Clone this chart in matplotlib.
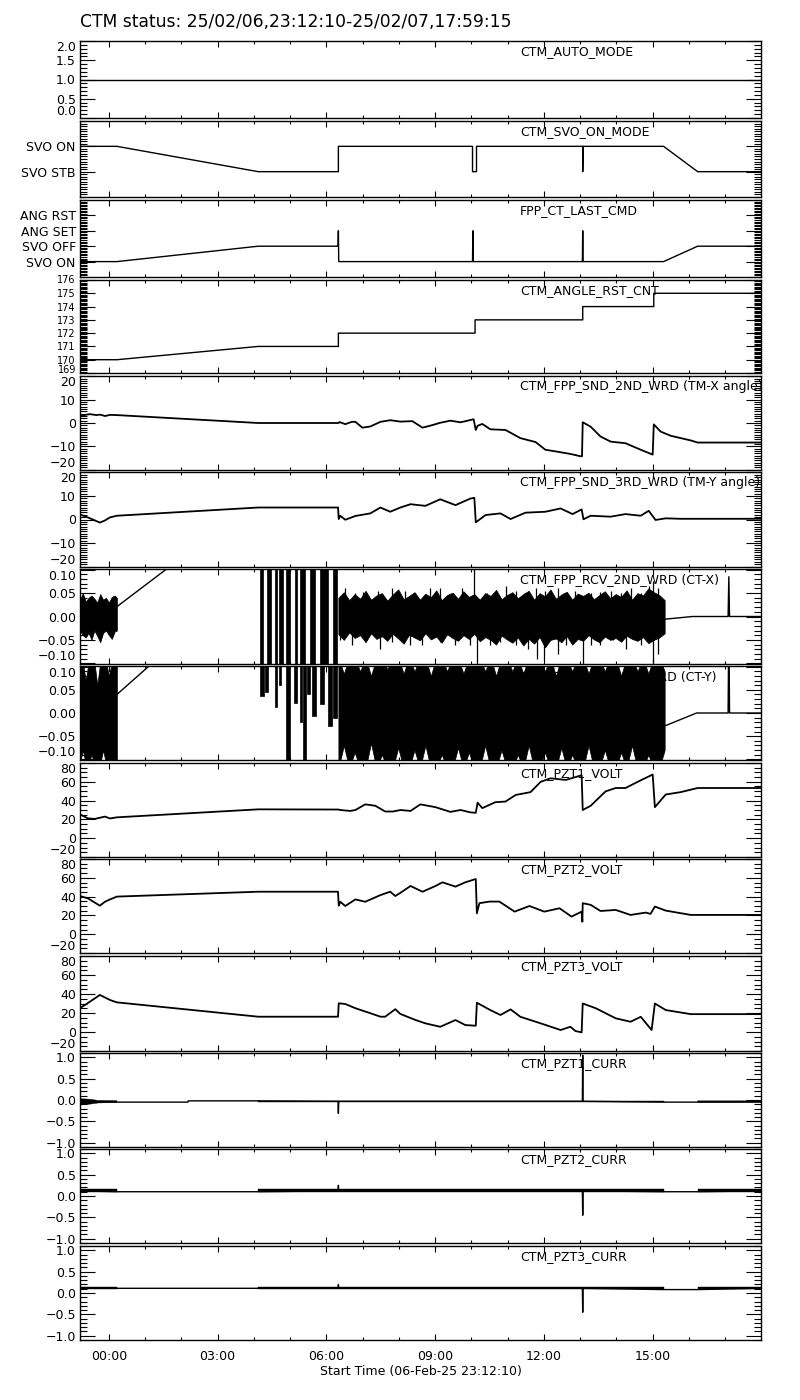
import numpy as np
import matplotlib
matplotlib.use('Agg')
import matplotlib.pyplot as plt
from matplotlib.ticker import MultipleLocator, FixedLocator, FixedFormatter, FuncFormatter

plt.rcParams['font.family'] = 'DejaVu Sans'
plt.rcParams['font.size'] = 9
plt.rcParams['axes.linewidth'] = 1.0

nan = np.nan

# time axis in hours from 00:00 on 07-Feb-25
t_start = -(47 * 60 + 50) / 3600.0          # 23:12:10
t_end = 17 + 59 / 60.0 + 15 / 3600.0        # 17:59:15

title = 'CTM status: 25/02/06,23:12:10-25/02/07,17:59:15'
xlabel = 'Start Time (06-Feb-25 23:12:10)'
names = ['CTM_AUTO_MODE', 'CTM_SVO_ON_MODE', 'FPP_CT_LAST_CMD', 'CTM_ANGLE_RST_CNT',
         'CTM_FPP_SND_2ND_WRD (TM-X angle)', 'CTM_FPP_SND_3RD_WRD (TM-Y angle)',
         'CTM_FPP_RCV_2ND_WRD (CT-X)', 'CTM_FPP_RCV_3RD_WRD (CT-Y)',
         'CTM_PZT1_VOLT', 'CTM_PZT2_VOLT', 'CTM_PZT3_VOLT',
         'CTM_PZT1_CURR', 'CTM_PZT2_CURR', 'CTM_PZT3_CURR']

# ---- status channels
auto_t = [-0.80, 17.99]
auto_v = [1.0, 1.0]

svo_labels = ['SVO STB', 'SVO ON']
svo_t = [-0.80, 0.22, 4.12, 6.33, 6.33, 10.03, 10.03, 10.14, 10.14, 13.07, 13.07, 13.08, 15.30, 16.24, 17.99]
svo_v = [1, 1, 0, 0, 1, 1, 0, 0, 1, 1, 0, 1, 1, 0, 0]

cmd_labels = ['SVO ON', 'SVO OFF', 'ANG SET', 'ANG RST']
cmd_t = [-0.80, 0.22, 4.12, 6.32, 6.33, 6.34, 10.03, 10.04, 10.05, 13.06, 13.07, 13.08, 15.30, 16.24, 17.99]
cmd_v = [0, 0, 1, 1, 2, 0, 0, 2, 0, 0, 2, 0, 0, 1, 1]

cnt_t = [-0.80, 0.22, 4.12, 6.33, 6.33, 10.1, 10.1, 13.07, 13.07, 15.03, 15.03, 17.99]
cnt_v = [170, 170, 171, 171, 172, 172, 173, 173, 174, 174, 175, 175]

# ---- TM angles
tmx_t = [-0.80, -0.65, -0.52, -0.35, -0.25, -0.10, 0.03, 0.22, 4.12, 6.33, 6.36, 6.52, 6.70,
         6.80, 6.99, 7.21, 7.49, 7.76, 8.04, 8.37, 8.65, 8.90, 9.14, 9.42, 9.70, 10.06, 10.12,
         10.17, 10.30, 10.52, 10.94, 11.35, 11.77, 12.04, 12.32, 12.73, 13.01, 13.05, 13.07,
         13.29, 13.56, 13.84, 14.25, 14.67, 15.00, 15.03, 15.22, 15.50, 16.05, 16.24, 17.99]
tmx_v = [2.7, 3.5, 3.8, 3.4, 3.6, 3.0, 3.5, 3.4, 0.0, 0.0, 0.4, -0.5, 0.5,
         0.5, -2.0, -1.5, 0.5, 1.2, 0.6, 0.8, -2.0, -1.0, 0.1, 1.0, 0.3, 1.6, -3.0,
         -1.2, -0.4, -2.7, -3.0, -6.5, -8.2, -11.5, -12.2, -13.3, -14.3, -14.3, 0.3,
         -1.6, -5.8, -8.0, -8.7, -11.5, -13.6, -0.6, -3.7, -5.5, -7.5, -8.4, -8.4]

tmy_t = [-0.80, -0.52, -0.25, -0.12, 0.03, 0.22, 4.12, 6.32, 6.34, 6.38, 6.52, 6.80, 7.21,
         7.49, 7.76, 8.04, 8.32, 8.73, 9.14, 9.56, 9.97, 10.08, 10.12, 10.39, 10.80, 11.08,
         11.49, 12.04, 12.46, 12.79, 13.04, 13.09, 13.29, 13.84, 14.25, 14.67, 14.89, 15.08,
         15.36, 15.77, 17.99]
tmy_v = [2.2, 0.5, -1.3, -0.5, 0.9, 1.6, 5.1, 5.1, 0.2, 1.6, -0.1, 1.5, 2.6,
         5.1, 3.3, 5.1, 6.5, 5.8, 8.6, 6.1, 8.9, 9.2, -1.2, 1.9, 2.6, 0.2,
         2.9, 3.3, 4.7, 2.3, 4.3, 0.1, 1.6, 1.2, 2.3, 1.6, 3.7, -0.2,
         0.5, 0.3, 0.3]

# ---- CT-X / CT-Y receive words: envelopes of the dense samples
ct_a_t = [-0.80, -0.72, -0.64, -0.56, -0.48, -0.40, -0.32, -0.24, -0.16, -0.08, 0.0, 0.08, 0.16, 0.22]
ct_c_t = [6.33, 6.48, 6.63, 6.78, 6.93, 7.08, 7.23, 7.38, 7.53, 7.68, 7.83, 7.98, 8.13, 8.28, 8.43,
          8.58, 8.73, 8.88, 9.03, 9.18, 9.33, 9.48, 9.63, 9.78, 9.93, 10.08, 10.23, 10.38, 10.53,
          10.68, 10.83, 10.98, 11.13, 11.28, 11.43, 11.58, 11.73, 11.88, 12.03, 12.18, 12.33, 12.48,
          12.63, 12.78, 12.93, 13.08, 13.23, 13.38, 13.53, 13.68, 13.83, 13.98, 14.13, 14.28, 14.43,
          14.58, 14.73, 14.88, 15.03, 15.18, 15.33]

ctx_a_hi = [0.035, 0.05, 0.032, 0.04, 0.045, 0.038, 0.03, 0.048, 0.036, 0.04, 0.03, 0.042, 0.045, 0.04]
ctx_a_lo = [-0.03, -0.04, -0.045, -0.035, -0.05, -0.03, -0.042, -0.055, -0.035, -0.03, -0.04, -0.048, -0.032, -0.03]
ctx_b_start = [4.17, 4.36, 4.59, 4.70, 4.89, 5.14, 5.28, 5.55, 5.83, 6.19]
ctx_b_end = [4.25, 4.48, 4.64, 4.81, 5.00, 5.19, 5.41, 5.69, 6.05, 6.30]
ctx_c_hi = [0.040, 0.052, 0.035, 0.048, 0.038, 0.055, 0.036, 0.045, 0.050, 0.034,
            0.047, 0.058, 0.037, 0.044, 0.052, 0.036, 0.049, 0.041, 0.056, 0.035,
            0.046, 0.051, 0.038, 0.054, 0.042, 0.048, 0.036, 0.050, 0.044, 0.057,
            0.037, 0.046, 0.052, 0.039, 0.048, 0.055, 0.036, 0.050, 0.043, 0.058,
            0.038, 0.047, 0.053, 0.036, 0.049, 0.044, 0.051, 0.037, 0.046, 0.054,
            0.039, 0.048, 0.042, 0.056, 0.036, 0.050, 0.045, 0.060, 0.052, 0.046, 0.035]
ctx_c_lo = [-0.038, -0.050, -0.034, -0.046, -0.040, -0.055, -0.036, -0.048, -0.042, -0.052,
            -0.037, -0.047, -0.058, -0.039, -0.045, -0.051, -0.036, -0.049, -0.043, -0.056,
            -0.038, -0.046, -0.052, -0.040, -0.048, -0.037, -0.053, -0.044, -0.050, -0.060,
            -0.041, -0.049, -0.056, -0.045, -0.062, -0.048, -0.058, -0.044, -0.066, -0.050,
            -0.047, -0.055, -0.042, -0.060, -0.048, -0.052, -0.040, -0.049, -0.055, -0.043,
            -0.050, -0.046, -0.054, -0.041, -0.048, -0.052, -0.044, -0.057, -0.050, -0.045, -0.036]
ctx_up_t = [6.52, 6.80, 7.02, 7.43, 7.82, 8.18, 8.45, 8.87, 9.14, 9.48, 9.75, 10.06, 10.44, 10.66, 10.94, 11.22,
            11.49, 11.77, 12.04, 12.38, 12.54, 12.87, 13.29, 13.56, 13.84, 14.12, 14.39, 14.67, 14.89, 15.00, 15.14]
ctx_up_v = [0.06, 0.05, 0.052, 0.055, 0.06, 0.055, 0.05, 0.06, 0.06, 0.05, 0.06, 0.12, 0.05, 0.05, 0.065, 0.055,
            0.05, 0.06, 0.055, 0.06, 0.05, 0.055, 0.05, 0.052, 0.055, 0.05, 0.06, 0.05, 0.065, 0.075, 0.06]
ctx_dn_t = [6.38, 6.71, 7.07, 7.49, 7.82, 8.31, 8.65, 9.14, 9.56, 9.97, 10.14, 10.52, 10.80, 11.22, 11.57, 11.82,
            11.99, 12.38, 12.60, 13.07, 13.29, 13.56, 13.90, 14.25, 14.67, 15.00, 15.14]
ctx_dn_v = [-0.05, -0.06, -0.05, -0.07, -0.055, -0.06, -0.06, -0.055, -0.06, -0.06, -0.12, -0.06, -0.055, -0.06,
            -0.07, -0.09, -0.09, -0.08, -0.06, -0.12, -0.06, -0.06, -0.05, -0.07, -0.06, -0.10, -0.08]
ctx_l_t = [0.22, 4.12, nan, 15.30, 16.10, 17.08, 17.10, 17.12, 17.99]
ctx_l_v = [0.021, 0.25, nan, -0.006, 0.0, 0.0, 0.085, 0.0, 0.0]

cty_a_hi = [0.11, 0.11, 0.07, 0.11, 0.11, 0.11, 0.06, 0.11, 0.11, 0.11, 0.08, 0.11, 0.11, 0.11]
cty_a_lo = [-0.11, -0.08, -0.11, -0.11, -0.09, -0.11, -0.11, -0.11, -0.08, -0.11, -0.11, -0.11, -0.11, -0.11]
cty_b_start = [4.17, 4.30, 4.59, 4.70, 4.89, 5.11, 5.28, 5.36, 5.47, 5.61, 5.83, 6.05, 6.19]
cty_b_end = [4.28, 4.40, 4.64, 4.76, 5.00, 5.19, 5.33, 5.44, 5.55, 5.72, 5.92, 6.16, 6.30]
cty_b_lo = [0.036, 0.046, 0.014, 0.06, -0.12, 0.022, -0.02, -0.12, 0.04, -0.007, 0.02, -0.028, -0.01]
cty_c_hi = [0.12, 0.085, 0.12, 0.12, 0.09, 0.12, 0.08, 0.12, 0.12, 0.095,
            0.12, 0.12, 0.085, 0.12, 0.09, 0.12, 0.12, 0.08, 0.12, 0.12,
            0.09, 0.12, 0.12, 0.085, 0.12, 0.12, 0.12, 0.09, 0.12, 0.08,
            0.12, 0.12, 0.09, 0.12, 0.085, 0.12, 0.12, 0.12, 0.09, 0.12,
            0.08, 0.12, 0.12, 0.09, 0.12, 0.12, 0.085, 0.12, 0.12, 0.09,
            0.12, 0.12, 0.08, 0.12, 0.12, 0.09, 0.12, 0.085, 0.12, 0.12, 0.09]
cty_c_lo = [-0.12, -0.07, -0.12, -0.085, -0.12, -0.12, -0.065, -0.12, -0.09, -0.12,
            -0.12, -0.075, -0.12, -0.12, -0.08, -0.12, -0.07, -0.12, -0.12, -0.09,
            -0.12, -0.12, -0.075, -0.12, -0.085, -0.12, -0.12, -0.07, -0.12, -0.12,
            -0.08, -0.12, -0.12, -0.09, -0.12, -0.07, -0.12, -0.12, -0.085, -0.12,
            -0.12, -0.075, -0.12, -0.09, -0.12, -0.12, -0.07, -0.12, -0.12, -0.08,
            -0.12, -0.12, -0.085, -0.12, -0.07, -0.12, -0.12, -0.09, -0.12, -0.12, -0.08]
cty_l_t = [0.22, 4.12, nan, 15.30, 16.21, 17.08, 17.10, 17.12, 17.99]
cty_l_v = [0.04, 0.31, nan, -0.029, 0.0, 0.0, 0.2, 0.0, 0.0]

# ---- PZT voltages
pzt1_t = [-0.80, -0.58, -0.39, -0.11, 0.03, 0.22, 4.12, 6.33, 6.38, 6.66, 6.80, 7.07, 7.35, 7.62, 7.84,
          8.04, 8.32, 8.59, 9.01, 9.42, 9.70, 9.97, 10.12, 10.17, 10.30, 10.66, 10.94, 11.22, 11.63,
          11.91, 12.18, 12.60, 12.87, 13.04, 13.07, 13.29, 13.70, 13.98, 14.25, 14.67, 14.94, 15.00,
          15.06, 15.36, 15.77, 16.24, 17.99]
pzt1_v = [25.4, 21.1, 20.5, 23.0, 21.0, 22.2, 30.7, 30.5, 30.0, 29.0, 30.0, 36.0, 34.5, 28.4, 28.4,
          30.0, 29.0, 36.0, 33.0, 28.0, 30.0, 27.5, 27.0, 37.8, 32.0, 38.3, 39.0, 46.0, 49.0,
          60.0, 63.7, 62.0, 65.0, 67.0, 30.0, 34.5, 49.8, 53.4, 53.4, 61.6, 66.6, 67.8,
          33.0, 46.5, 49.0, 53.4, 53.4]
pzt2_t = [-0.80, -0.58, -0.25, -0.11, 0.03, 0.22, 4.12, 6.32, 6.34, 6.38, 6.52, 6.80, 7.07, 7.49, 7.76,
          7.90, 8.04, 8.32, 8.65, 9.01, 9.20, 9.56, 9.83, 10.12, 10.15, 10.22, 10.50, 10.77, 11.19,
          11.60, 12.01, 12.43, 12.76, 13.04, 13.06, 13.07, 13.29, 13.56, 13.98, 14.39, 14.81, 14.94,
          15.06, 15.36, 16.05, 17.99]
pzt2_v = [40.6, 38.2, 30.3, 34.5, 37.0, 40.0, 45.2, 45.2, 30.3, 34.5, 30.0, 37.0, 34.5, 41.6, 45.2,
          40.6, 44.0, 51.3, 45.2, 51.3, 55.2, 50.6, 55.2, 58.7, 22.2, 33.0, 34.7, 34.7, 24.0,
          30.0, 24.0, 27.6, 18.7, 24.0, 13.3, 33.0, 31.2, 24.7, 25.8, 20.5, 23.0, 21.6,
          29.4, 25.1, 20.5, 20.5]
pzt3_t = [-0.80, -0.52, -0.25, 0.03, 0.22, 4.12, 6.32, 6.34, 6.52, 6.80, 7.21, 7.49, 7.62, 7.90, 8.04,
          8.46, 8.73, 9.14, 9.56, 9.83, 10.12, 10.15, 10.52, 10.80, 11.08, 11.35, 11.91, 12.46, 12.73,
          12.87, 13.04, 13.07, 13.43, 13.98, 14.39, 14.67, 14.97, 15.06, 15.36, 16.05, 17.99]
pzt3_v = [25.0, 32.0, 39.0, 33.7, 31.2, 16.1, 16.1, 30.2, 29.5, 25.0, 19.8, 16.1, 16.1, 24.0, 19.0,
          12.6, 9.1, 5.5, 12.6, 7.3, 6.6, 30.8, 23.1, 17.9, 23.8, 16.0, 9.1, 2.1, 5.5,
          1.0, -0.4, 30.0, 25.0, 14.4, 10.8, 16.0, 2.1, 30.0, 23.1, 18.8, 18.8]

# ---- PZT currents (line + noise band)
cur1_t = [-0.80, 0.22, 2.18, 2.19, 4.12, 6.32, 6.33, 6.34, 13.06, 13.07, 13.08, 15.30, 16.24, 17.99]
cur1_v = [-0.04, -0.05, -0.05, -0.02, -0.02, -0.03, -0.31, -0.03, -0.03, 1.05, -0.03, -0.05, -0.05, -0.04]
cur1_bt = [-0.80, -0.55, -0.30, 0.22, nan, 4.12, 15.30, nan, 16.24, 17.99]
cur1_bhi = [0.03, 0.02, -0.01, -0.015, nan, -0.02, -0.02, nan, -0.02, -0.02]
cur1_blo = [-0.12, -0.10, -0.07, -0.055, nan, -0.05, -0.05, nan, -0.05, -0.06]

cur2_t = [-0.80, 0.22, 4.12, 6.32, 6.33, 6.34, 13.06, 13.07, 13.08, 15.30, 16.24, 17.99]
cur2_v = [0.12, 0.10, 0.10, 0.12, 0.25, 0.12, 0.12, -0.45, 0.12, 0.10, 0.10, 0.12]
cur2_bt = [-0.80, 0.22, nan, 4.12, 15.30, nan, 16.24, 17.99]
cur2_bhi = [0.16, 0.16, nan, 0.16, 0.16, nan, 0.16, 0.16]
cur2_blo = [0.085, 0.085, nan, 0.085, 0.085, nan, 0.085, 0.085]

cur3_t = [-0.80, 0.22, 4.12, 6.32, 6.33, 6.34, 13.06, 13.07, 13.08, 15.30, 16.24, 17.99]
cur3_v = [0.11, 0.11, 0.11, 0.11, 0.20, 0.11, 0.11, -0.45, 0.11, 0.08, 0.08, 0.11]
cur3_bt = [-0.80, 0.22, nan, 4.12, 15.30, nan, 16.24, 17.99]
cur3_bhi = [0.135, 0.135, nan, 0.135, 0.135, nan, 0.135, 0.135]
cur3_blo = [0.09, 0.09, nan, 0.09, 0.09, nan, 0.09, 0.09]


def num_fmt(fmt):
    def f(v, pos):
        if abs(v) < 1e-9:
            v = 0.0
        return (fmt % v).replace('-', '\u2212')
    return FuncFormatter(f)


def hhmm(v, pos):
    return '%02d:00' % (int(round(v)) % 24)


def setup(ax, ylim, major, minor, fmt):
    ax.set_xlim(t_start, t_end)
    ax.set_ylim(ylim)
    ax.xaxis.set_major_locator(MultipleLocator(3))
    ax.xaxis.set_minor_locator(MultipleLocator(1))
    ax.yaxis.set_major_locator(major)
    ax.yaxis.set_minor_locator(MultipleLocator(minor))
    ax.yaxis.set_major_formatter(fmt)
    ax.tick_params(which='both', direction='in', top=True, right=True, width=0.8,
                   labelbottom=False, labelsize=9, pad=3)
    ax.tick_params(axis='x', which='major', length=4.5)
    ax.tick_params(axis='x', which='minor', length=2.5)
    ax.tick_params(axis='y', which='major', length=10.5)
    ax.tick_params(axis='y', which='minor', length=5)


W, H = 800.0, 1400.0
x0, x1 = 80, 761
tops = [41, 121, 200, 280, 376, 472, 569, 666, 763, 859, 956, 1053, 1149, 1246]
bots = [118, 197, 277, 373, 470, 567, 664, 760, 857, 953, 1051, 1147, 1243, 1340]

fig = plt.figure(figsize=(8, 14), dpi=100)
axes = []
for top, bot in zip(tops, bots):
    axes.append(fig.add_axes([x0 / W, 1 - bot / H, (x1 - x0) / W, (bot - top) / H]))

lw = 1.3
k = 'black'

# 1 auto mode
ax = axes[0]
ax.plot(auto_t, auto_v, color=k, lw=1.0)
setup(ax, (0, 2), MultipleLocator(0.5), 0.1, num_fmt('%.1f'))

# 2 servo mode
ax = axes[1]
ax.plot(svo_t, svo_v, color=k, lw=1.0)
setup(ax, (-1, 2), FixedLocator([0, 1]), 0.1, FixedFormatter(svo_labels))

# 3 last command
ax = axes[2]
ax.plot(cmd_t, cmd_v, color=k, lw=1.0)
setup(ax, (-1, 4), FixedLocator([0, 1, 2, 3]), 0.1, FixedFormatter(cmd_labels))

# 4 angle reset count (eight labels in a short panel: smaller digits)
ax = axes[3]
ax.plot(cnt_t, cnt_v, color=k, lw=1.0)
setup(ax, (169, 176), MultipleLocator(1), 0.1, num_fmt('%d'))
ax.tick_params(axis='y', labelsize=7)

# 5, 6 TM angles
for ax, t, v in [(axes[4], tmx_t, tmx_v), (axes[5], tmy_t, tmy_v)]:
    ax.plot(t, v, color=k, lw=lw)
    setup(ax, (-20.2, 20.2), MultipleLocator(10), 1, num_fmt('%d'))

# 7 CT-X
ax = axes[6]
ax.fill_between(ct_a_t, ctx_a_lo, ctx_a_hi, color=k, lw=0.5, zorder=2)
for s, e in zip(ctx_b_start, ctx_b_end):
    ax.fill_between([s, e], -1, 1, color=k, lw=0.5, zorder=2)
ax.fill_between(ct_c_t, ctx_c_lo, ctx_c_hi, color=k, lw=0.5, zorder=2)
ax.vlines(ctx_up_t, 0, ctx_up_v, color=k, lw=0.9, zorder=2)
ax.vlines(ctx_dn_t, ctx_dn_v, 0, color=k, lw=0.9, zorder=2)
ax.plot(ctx_l_t, ctx_l_v, color=k, lw=1.0)
setup(ax, (-0.1015, 0.1015), MultipleLocator(0.05), 0.01, num_fmt('%.2f'))

# 8 CT-Y
ax = axes[7]
ax.fill_between(ct_a_t, cty_a_lo, cty_a_hi, color=k, lw=0.5, zorder=2)
for s, e, lo in zip(cty_b_start, cty_b_end, cty_b_lo):
    ax.fill_between([s, e], lo, 1, color=k, lw=0.5, zorder=2)
ax.fill_between(ct_c_t, cty_c_lo, cty_c_hi, color=k, lw=0.5, zorder=2)
ax.plot(cty_l_t, cty_l_v, color=k, lw=1.0)
setup(ax, (-0.1015, 0.1015), MultipleLocator(0.05), 0.01, num_fmt('%.2f'))

# 9-11 PZT voltages
for ax, t, v in [(axes[8], pzt1_t, pzt1_v), (axes[9], pzt2_t, pzt2_v), (axes[10], pzt3_t, pzt3_v)]:
    ax.plot(t, v, color=k, lw=lw)
    setup(ax, (-20, 80), MultipleLocator(20), 5, num_fmt('%d'))

# 12-14 PZT currents
for ax, t, v, bt, bhi, blo in [(axes[11], cur1_t, cur1_v, cur1_bt, cur1_bhi, cur1_blo),
                               (axes[12], cur2_t, cur2_v, cur2_bt, cur2_bhi, cur2_blo),
                               (axes[13], cur3_t, cur3_v, cur3_bt, cur3_bhi, cur3_blo)]:
    ax.plot(t, v, color=k, lw=1.0)
    ax.fill_between(bt, blo, bhi, color=k, lw=0.3, zorder=2)
    setup(ax, (-1.1, 1.1), MultipleLocator(0.5), 0.1, num_fmt('%.1f'))

for ax, name in zip(axes, names):
    ax.annotate(name, xy=(0.646, 1), xycoords='axes fraction', xytext=(0, -7.6),
                textcoords='offset points', ha='left', va='center', fontsize=9,
                zorder=1, annotation_clip=False)

ax = axes[-1]
ax.xaxis.set_major_formatter(FuncFormatter(hhmm))
ax.tick_params(axis='x', labelbottom=True, pad=7)
ax.set_xlabel(xlabel, fontsize=9, labelpad=2)

fig.text(x0 / W, 1 - 22 / H, title, fontsize=12.3, ha='left', va='center')

# keep the edge labels inside their own panel, like the original plot
edge_va = {3: ('center', 'baseline')}
fig.canvas.draw()
for i, ax in enumerate(axes):
    top_va, bot_va = edge_va.get(i, ('top', 'bottom'))
    lo, hi = ax.get_ylim()
    tol = 0.02 * (hi - lo)
    for tick in ax.yaxis.get_major_ticks():
        loc = tick.get_loc()
        if abs(loc - hi) < tol:
            tick.label1.set_va(top_va)
        elif abs(loc - lo) < tol:
            tick.label1.set_va(bot_va)

fig.savefig('out.png', dpi=100)
